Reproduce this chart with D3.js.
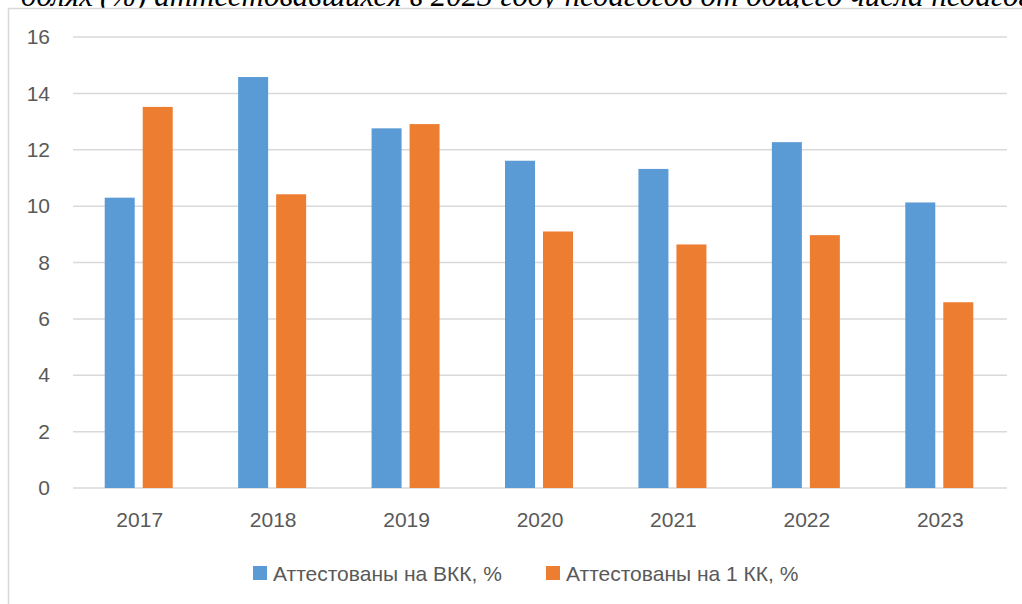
<!DOCTYPE html>
<html>
<head>
<meta charset="utf-8">
<script src="https://cdn.jsdelivr.net/npm/d3@7"></script>
<style>
  html, body { margin: 0; padding: 0; background: #fff; overflow: hidden; }
</style>
</head>
<body>
<script>
// chart data
var years = ["2017", "2018", "2019", "2020", "2021", "2022", "2023"];
var vkk = [10.3, 14.58, 12.76, 11.61, 11.32, 12.27, 10.13];
var kk1 = [13.52, 10.42, 12.91, 9.1, 8.64, 8.97, 6.59];
var seriesNames = ["Аттестованы на ВКК, %", "Аттестованы на 1 КК, %"];
var colours = ["#5B9BD5", "#ED7D31"];
var yTicks = [0, 2, 4, 6, 8, 10, 12, 14, 16];

var width = 1022, height = 604;
var plotLeft = 73, plotRight = 1007, plotTop = 37, plotBottom = 488;

var svg = d3.select("body").append("svg")
    .attr("width", width).attr("height", height)
    .style("font-family", "'Liberation Sans', Arial, sans-serif");

// caption above the chart, cut off by the page edge like in the source document
var caption = svg.append("g")
    .attr("font-family", "'Liberation Serif', 'Times New Roman', serif")
    .attr("font-style", "italic")
    .attr("font-size", 31)
    .attr("fill", "#000");
caption.append("text")
    .attr("x", 93).attr("y", 6)
    .attr("text-anchor", "end")
    .text("долях");
caption.append("text")
    .attr("x", 100).attr("y", 6)
    .text("(%) аттестовавшихся в 2023 году педагогов от общего числа педагогов");

// chart frame
svg.append("rect")
    .attr("x", 8.5).attr("y", 8.5)
    .attr("width", width + 20).attr("height", height + 20)
    .attr("fill", "#fff")
    .attr("stroke", "#D9D9D9")
    .attr("stroke-width", 1.5);

var x = d3.scaleBand().domain(years).range([plotLeft, plotRight]);
var y = d3.scaleLinear().domain([0, 16]).range([plotBottom, plotTop]);

// gridlines
svg.append("g").selectAll("line").data(yTicks).enter().append("line")
    .attr("x1", plotLeft).attr("x2", plotRight)
    .attr("y1", function(d){ return y(d); })
    .attr("y2", function(d){ return y(d); })
    .attr("stroke", "#D9D9D9")
    .attr("stroke-width", 1.5);

// y axis labels
var yAxis = d3.axisLeft(y).tickValues(yTicks).tickSize(0).tickPadding(0);
var yg = svg.append("g").attr("transform", "translate(50,0)").call(yAxis);
yg.select(".domain").remove();
yg.selectAll("text")
    .attr("font-size", 21)
    .attr("font-family", "'Liberation Sans', Arial, sans-serif")
    .attr("fill", "#595959");

// x axis labels
var xAxis = d3.axisBottom(x).tickSize(0).tickPadding(0);
var xg = svg.append("g").attr("transform", "translate(0," + (plotBottom + 24) + ")").call(xAxis);
xg.select(".domain").remove();
xg.selectAll("text")
    .attr("font-size", 21)
    .attr("font-family", "'Liberation Sans', Arial, sans-serif")
    .attr("fill", "#595959");

// bars
var barW = 30, gap = 8;
var rows = years.map(function(yr, i){ return {year: yr, values: [vkk[i], kk1[i]]}; });
var groups = svg.append("g").selectAll("g").data(rows).enter().append("g");
groups.selectAll("rect").data(function(d){ return d.values.map(function(v, k){ return {year: d.year, v: v, k: k}; }); })
    .enter().append("rect")
    .attr("x", function(d){
        var c = x(d.year) + x.bandwidth() / 2 - 1;
        return d.k === 0 ? c - gap / 2 - barW : c + gap / 2;
    })
    .attr("y", function(d){ return y(d.v); })
    .attr("width", barW)
    .attr("height", function(d){ return y(0) - y(d.v); })
    .attr("fill", function(d){ return colours[d.k]; });

// legend
var legendX = [253, 546];
var leg = svg.append("g").selectAll("g").data(seriesNames).enter().append("g")
    .attr("transform", function(d, i){ return "translate(" + legendX[i] + ",566)"; });
leg.append("rect").attr("width", 14).attr("height", 14)
    .attr("fill", function(d, i){ return colours[i]; });
leg.append("text").attr("x", 20).attr("y", 14.5)
    .attr("font-size", 21)
    .attr("fill", "#595959")
    .text(function(d){ return d; });
</script>
</body>
</html>
